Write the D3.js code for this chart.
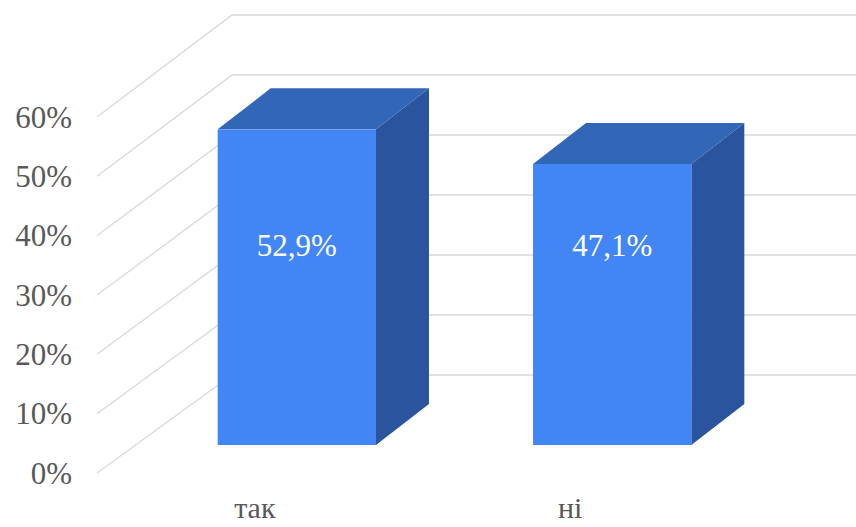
<!DOCTYPE html>
<html>
<head>
<meta charset="utf-8">
<script src="https://cdn.jsdelivr.net/npm/d3@7"></script>
<style>
  body { margin: 0; background: #fff; }
</style>
</head>
<body>
<svg id="chart" width="856" height="527"></svg>
<script>
// дані
const categories = ['так', 'ні']
const values = [52.9, 47.1]
const valueLabels = ['52,9%', '47,1%']
const ticks = [0, 10, 20, 30, 40, 50, 60]

const width = 856, height = 527
const font = "'Times New Roman', 'Liberation Serif', Tinos, 'Noto Serif', 'DejaVu Serif', FreeSerif, serif"
const svg = d3.select('#chart').attr('font-family', font)

// стіни (передній і задній край)
const wallFront = 97, wallBack = 232
const yFront = d3.scaleLinear().domain([0, 60]).range([473, 117])
const yBack = d3.scaleLinear().domain([0, 60]).range([375, 15])

// стовпчики
const yBar = d3.scaleLinear().domain([0, 60]).range([445, 87])
const x = d3.scaleBand()
    .domain(categories)
    .range([60, 849])
    .paddingInner(0.498)
    .paddingOuter(0.5)
const depthX = 53, depthY = -41

const grid = svg.append('g').attr('class', 'grid')
grid.selectAll('path')
    .data(ticks)
    .join('path')
    .attr('d', d => `M${wallFront},${yFront(d)}L${wallBack},${yBack(d)}L${width},${yBack(d)}`)
    .attr('fill', 'none')
    .attr('stroke', '#d9d9d9')
    .attr('stroke-width', 1.3)

svg.append('g')
    .selectAll('text')
    .data(ticks)
    .join('text')
    .attr('x', 72)
    .attr('y', d => yFront(d))
    .attr('dy', '0.34em')
    .attr('text-anchor', 'end')
    .attr('font-size', 31)
    .attr('fill', '#595959')
    .text(d => d + '%')

const bars = svg.append('g')
    .selectAll('g')
    .data(values)
    .join('g')

// бічна грань
bars.append('path')
    .attr('d', (d, i) => {
        const x1 = x(categories[i]) + x.bandwidth()
        return `M${x1},${yBar(d)}L${x1 + depthX},${yBar(d) + depthY}L${x1 + depthX},${yBar(0) + depthY}L${x1},${yBar(0)}Z`
    })
    .attr('fill', '#2a559e')

// верхня грань
bars.append('path')
    .attr('d', (d, i) => {
        const x0 = x(categories[i]), x1 = x0 + x.bandwidth()
        return `M${x0},${yBar(d)}L${x0 + depthX},${yBar(d) + depthY}L${x1 + depthX},${yBar(d) + depthY}L${x1},${yBar(d)}Z`
    })
    .attr('fill', '#3266b7')

// передня грань
bars.append('rect')
    .attr('x', (d, i) => x(categories[i]))
    .attr('y', d => yBar(d))
    .attr('width', x.bandwidth())
    .attr('height', d => yBar(0) - yBar(d))
    .attr('fill', '#4285f4')

bars.append('text')
    .attr('x', (d, i) => x(categories[i]) + x.bandwidth() / 2)
    .attr('y', 256)
    .attr('text-anchor', 'middle')
    .attr('font-size', 31)
    .attr('fill', '#ffffff')
    .text((d, i) => valueLabels[i])

svg.append('g')
    .selectAll('text')
    .data(categories)
    .join('text')
    .attr('x', d => x(d) + x.bandwidth() / 2 - 42)
    .attr('y', 518)
    .attr('text-anchor', 'middle')
    .attr('font-size', 30)
    .attr('fill', '#595959')
    .text(d => d)
</script>
</body>
</html>
